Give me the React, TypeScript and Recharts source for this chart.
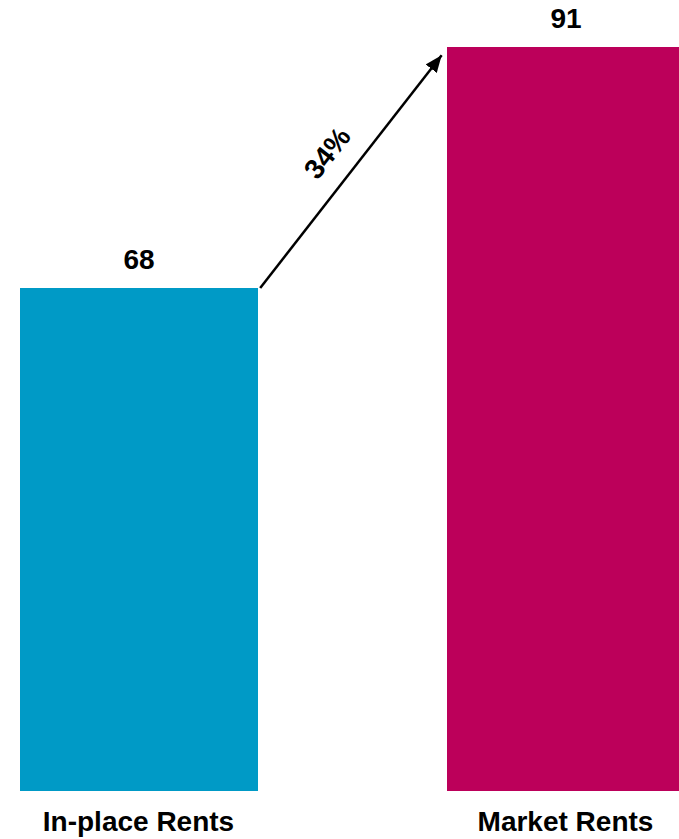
import { BarChart, Bar, XAxis, YAxis, Cell, LabelList, ReferenceLine } from 'recharts';

const categories = ['In-place Rents', 'Market Rents'];
const rents = [68, 91];
const growthLabel = '34%';
// arrow end points in data units (x on a 0..1 index axis, y in rent)
const arrowFrom = { x: 0.285, y: 68 };
const arrowTo = { x: 0.71, y: 90.2 };

const colors = ['#009AC6', '#BC005A'];
const font = '"Liberation Sans", Arial, sans-serif';

const chartData = categories.map((name, i) => ({ name, idx: i, value: rents[i] }));

function Arrow(props: any) {
  const { x1, y1, x2, y2 } = props;
  const angle = (Math.atan2(y2 - y1, x2 - x1) * 180) / Math.PI;
  const len = Math.hypot(x2 - x1, y2 - y1);
  const mx = (x1 + x2) / 2;
  const my = (y1 + y2) / 2;
  // push the label off the line, to the upper-left side
  const nx = (y2 - y1) / len;
  const ny = -(x2 - x1) / len;
  const tx = mx + nx * 30;
  const ty = my + ny * 30;
  return (
    <g>
      <defs>
        <marker
          id="arrowHead"
          markerUnits="userSpaceOnUse"
          markerWidth={17}
          markerHeight={14}
          refX={17}
          refY={7}
          orient="auto"
        >
          <path d="M0,0 L17,7 L0,14 z" fill="#000" />
        </marker>
      </defs>
      <line x1={x1} y1={y1} x2={x2} y2={y2} stroke="#000" strokeWidth={2.5} markerEnd="url(#arrowHead)" />
      <text
        x={tx}
        y={ty}
        transform={`rotate(${angle}, ${tx}, ${ty})`}
        textAnchor="middle"
        dominantBaseline="central"
        fontFamily={font}
        fontWeight="bold"
        fontSize={28}
        fill="#000"
      >
        {growthLabel}
      </text>
    </g>
  );
}

export default function App() {
  return (
    <div style={{ position: 'absolute', left: 0, top: 0, width: 679, height: 839, overflow: 'hidden', background: '#fff' }}>
      <BarChart
        width={854}
        height={839}
        data={chartData}
        margin={{ top: 5, right: 0, left: 0, bottom: 0 }}
        style={{ position: 'absolute', left: -75, top: 0 }}
      >
        <XAxis
          dataKey="name"
          axisLine={false}
          tickLine={false}
          height={48}
          tickMargin={14}
          tick={{ fontSize: 28, fontWeight: 'bold', fill: '#000', fontFamily: font }}
        />
        <XAxis xAxisId="pos" type="number" dataKey="idx" domain={[-0.5, 1.5]} hide />
        <YAxis hide domain={[20, 95]} />
        <Bar dataKey="value" barSize={238} isAnimationActive={false}>
          {chartData.map((d, i) => (
            <Cell key={d.name} fill={colors[i]} />
          ))}
          <LabelList
            dataKey="value"
            position="top"
            offset={19}
            fill="#000"
            fontSize={28}
            fontWeight="bold"
            fontFamily={font}
          />
        </Bar>
        <ReferenceLine
          xAxisId="pos"
          segment={[arrowFrom, arrowTo]}
          ifOverflow="visible"
          shape={Arrow}
        />
      </BarChart>
    </div>
  );
}
